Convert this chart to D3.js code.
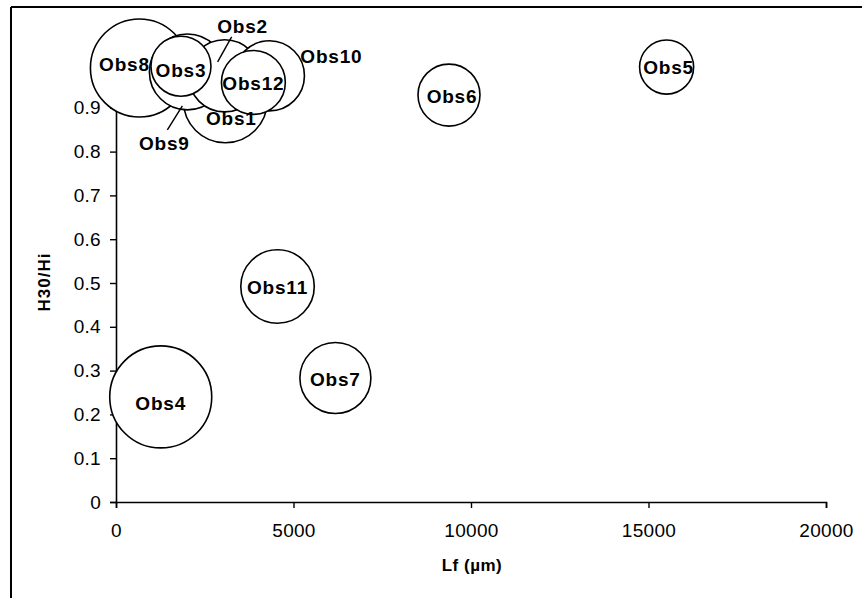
<!DOCTYPE html>
<html>
<head>
<meta charset="utf-8">
<script src="https://cdn.jsdelivr.net/npm/d3@7"></script>
<style>
  html, body { margin: 0; padding: 0; background: #fff; }
  svg { display: block; }
  text { font-family: "Liberation Sans", Arial, sans-serif; fill: #000; }
</style>
</head>
<body>
<svg id="chart" width="862" height="598"></svg>
<script>
// ---- data ----
const categories = ["Obs1","Obs2","Obs3","Obs4","Obs5","Obs6","Obs7","Obs8","Obs9","Obs10","Obs11","Obs12"];
const lfValues   = [3080, 3060, 1830, 1260, 15510, 9380, 6180, 660, 2010, 4320, 4550, 3870];
const h30Values  = [0.916, 0.973, 0.995, 0.240, 0.993, 0.929, 0.283, 0.991, 0.982, 0.973, 0.492, 0.958];
const bubbleSizes = [17.6, 13.0, 9.0, 26.0, 7.3, 9.6, 12.6, 24.0, 14.4, 12.3, 13.5, 10.2];
const xTickValues = [0, 5000, 10000, 15000, 20000];
const yTickValues = [0, 0.1, 0.2, 0.3, 0.4, 0.5, 0.6, 0.7, 0.8, 0.9];
const xTitle = "Lf (µm)";
const yTitle = "H30/Hi";

// ---- layout ----
const svg = d3.select("#chart");
const x = d3.scaleLinear().domain([0, 20000]).range([116, 826]);
const y = d3.scaleLinear().domain([0, 1]).range([502, 64]);
const r = d3.scaleSqrt().domain([0, 26]).range([0, 51]);

// label placement (pixel offsets from bubble centre) for labels moved by hand
const labelOffset = {
  Obs1: [6, 17], Obs2: [18, -50], Obs8: [-15, -4], Obs9: [-23, 71], Obs10: [62, -20],
  Obs3: [0, 4], Obs4: [0, 6], Obs5: [2, 0], Obs6: [3, 1]
};
const leaders = {
  Obs2: [[7, -39], [-7, -14]],
  Obs9: [[-20, 58], [-5, 34]]
};

// outer frame
svg.append("line").attr("x1", 11).attr("y1", 7).attr("x2", 862).attr("y2", 7)
  .attr("stroke", "#000").attr("stroke-width", 2);
svg.append("line").attr("x1", 11).attr("y1", 7).attr("x2", 11).attr("y2", 598)
  .attr("stroke", "#000").attr("stroke-width", 2);

// axes
const fs = 19;
const xAxis = svg.append("g").attr("transform", "translate(0,502)")
  .call(d3.axisBottom(x).tickValues(xTickValues).tickFormat(d => String(d)).tickSizeOuter(0).tickSize(6).tickPadding(16));
const yAxis = svg.append("g").attr("transform", "translate(116,0)")
  .call(d3.axisLeft(y).tickValues(yTickValues).tickFormat(d => String(d)).tickSizeOuter(0).tickSize(6).tickPadding(9));
[xAxis, yAxis].forEach(g => {
  g.select(".domain").attr("stroke", "#000").attr("stroke-width", 1.6);
  g.selectAll(".tick line").attr("stroke", "#000").attr("stroke-width", 1.4);
  g.selectAll(".tick text").attr("font-size", fs).attr("font-family", "Liberation Sans, Arial, sans-serif")
    .attr("letter-spacing", "0.3px").attr("fill", "#000");
});

// axis titles
svg.append("text").attr("x", 472).attr("y", 571).attr("text-anchor", "middle")
  .attr("font-size", 17).attr("font-weight", "bold").attr("letter-spacing", "0.5px").text(xTitle);
svg.append("text").attr("transform", "translate(50,282) rotate(-90)").attr("text-anchor", "middle")
  .attr("font-size", 17).attr("font-weight", "bold").attr("letter-spacing", "1px").text(yTitle);

// bubbles (largest drawn first)
const data = categories.map((c, i) => ({ name: c, lf: lfValues[i], h: h30Values[i], s: bubbleSizes[i] }));
const sorted = data.slice().sort((a, b) => b.s - a.s);
svg.append("g").selectAll("circle").data(sorted).join("circle")
  .attr("cx", d => x(d.lf)).attr("cy", d => y(d.h)).attr("r", d => r(d.s))
  .attr("fill", "#fff").attr("stroke", "#000").attr("stroke-width", 1.6);

// leader lines
svg.append("g").selectAll("line").data(data.filter(d => leaders[d.name])).join("line")
  .attr("x1", d => x(d.lf) + leaders[d.name][0][0]).attr("y1", d => y(d.h) + leaders[d.name][0][1])
  .attr("x2", d => x(d.lf) + leaders[d.name][1][0]).attr("y2", d => y(d.h) + leaders[d.name][1][1])
  .attr("stroke", "#000").attr("stroke-width", 1.4);

// labels
const lfs = 19;
svg.append("g").selectAll("text").data(data).join("text")
  .attr("x", d => x(d.lf) + (labelOffset[d.name] ? labelOffset[d.name][0] : 0))
  .attr("y", d => y(d.h) + (labelOffset[d.name] ? labelOffset[d.name][1] : 1) + lfs * 0.36)
  .attr("text-anchor", "middle").attr("font-size", lfs).attr("font-weight", "bold")
  .attr("letter-spacing", "0.8px")
  .text(d => d.name);
</script>
</body>
</html>
